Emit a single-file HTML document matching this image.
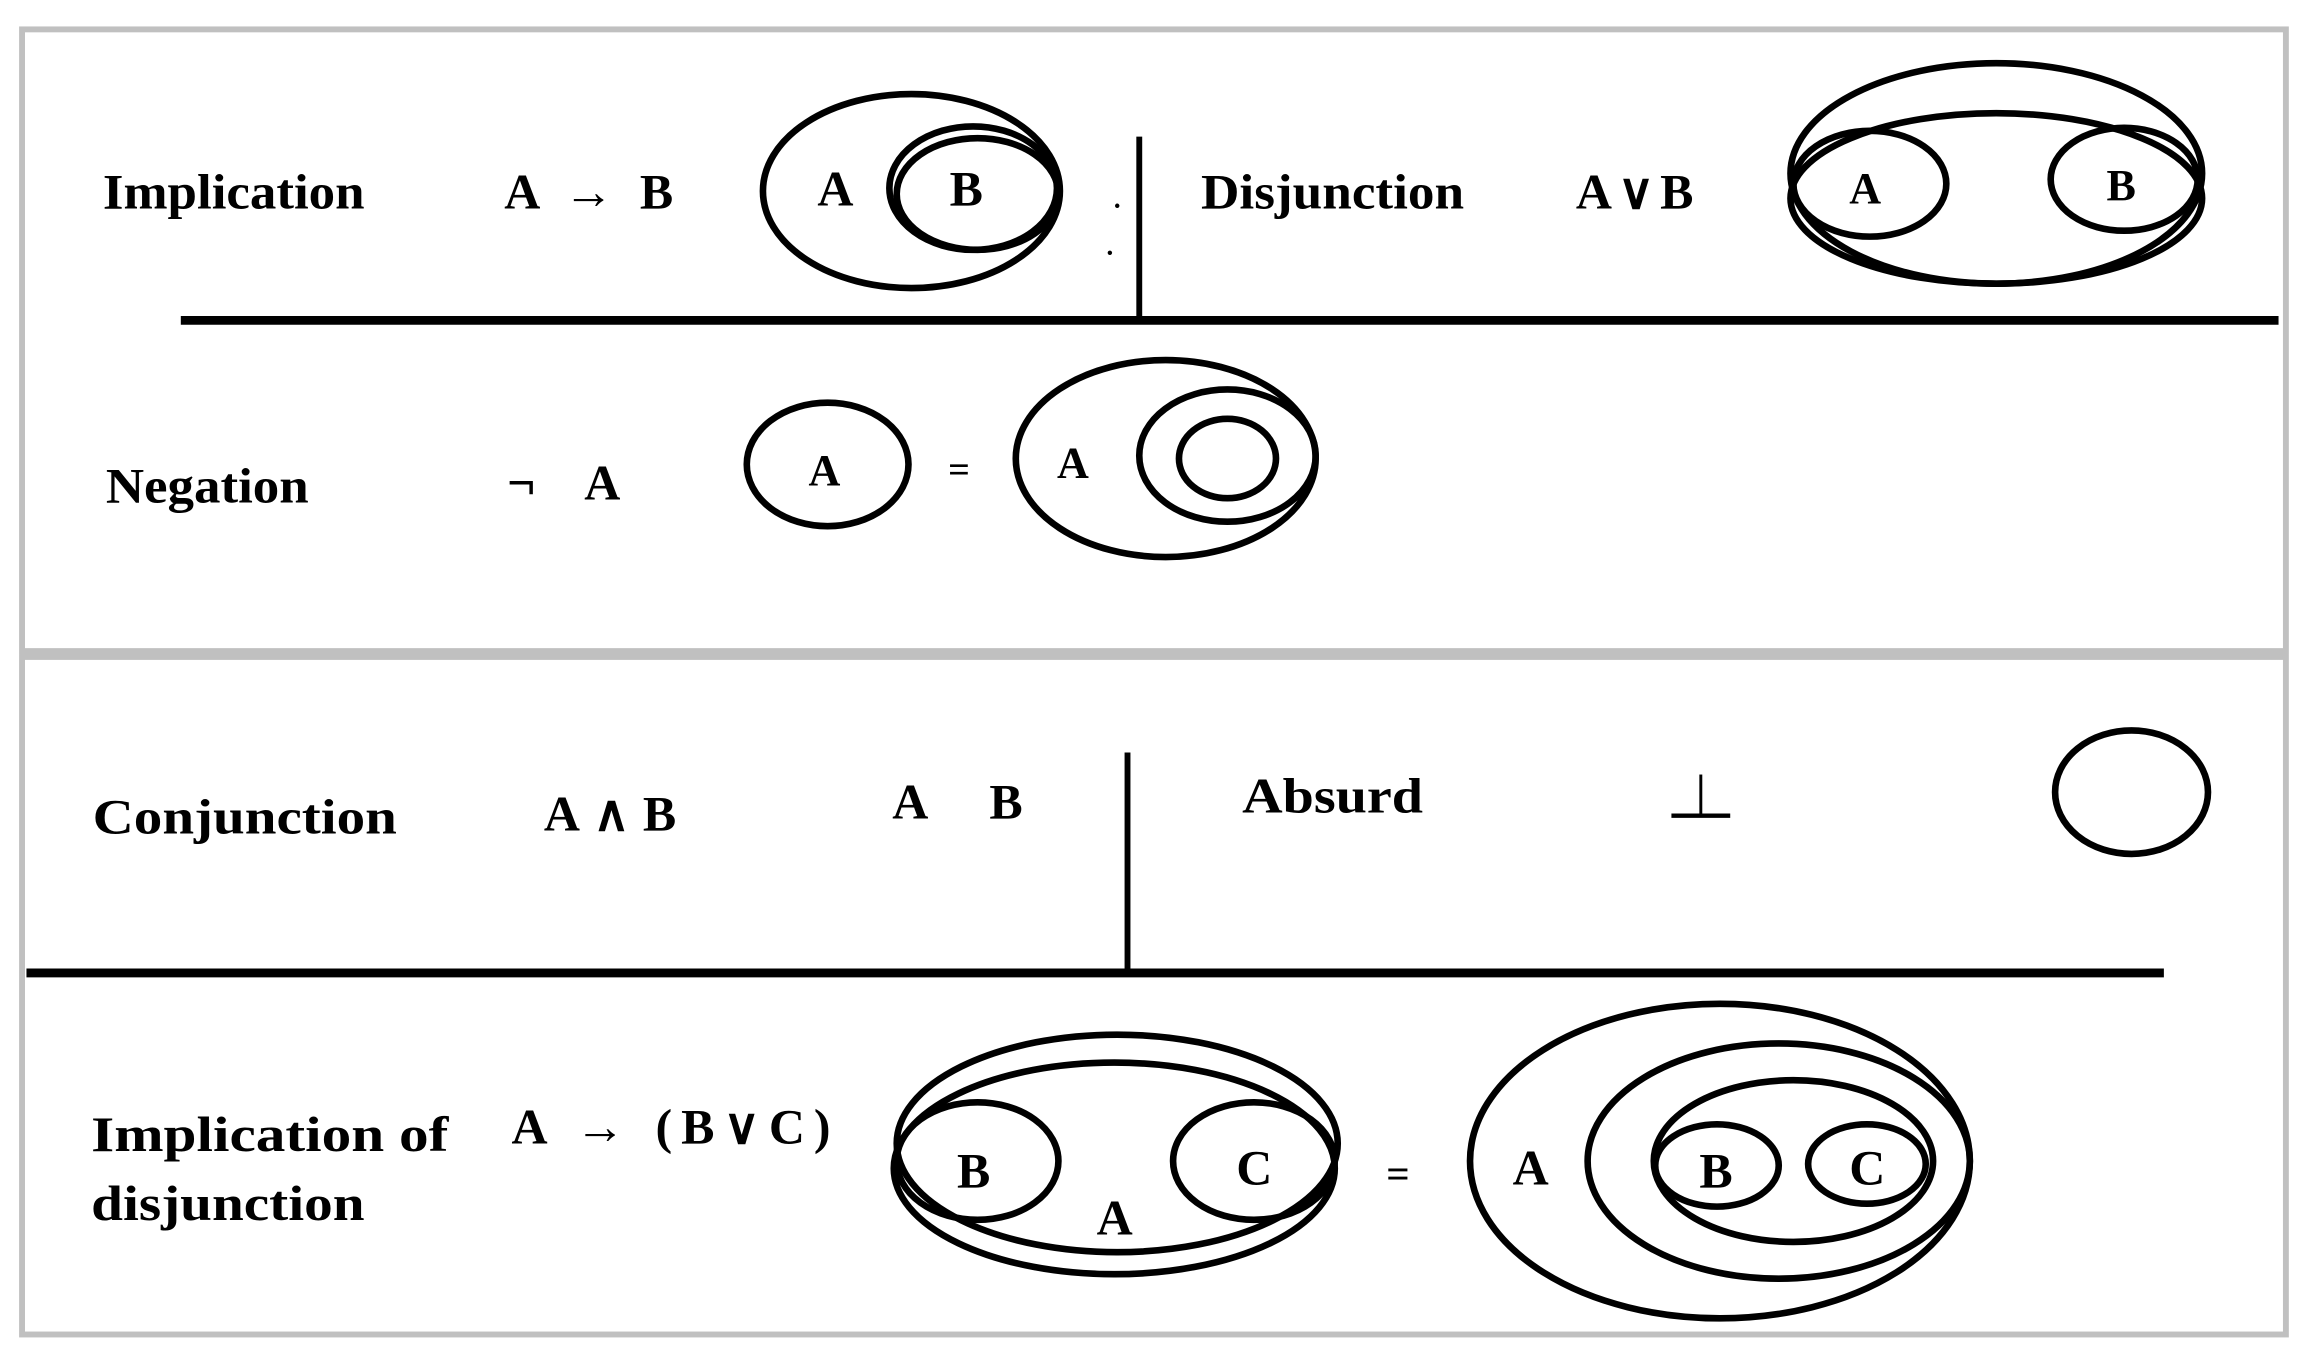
<!DOCTYPE html>
<html><head><style>html,body{margin:0;padding:0;background:#fff}svg{display:block}</style></head>
<body>
<svg width="2305" height="1358" viewBox="0 0 1568 924" preserveAspectRatio="none" xmlns="http://www.w3.org/2000/svg">
<rect x="0" y="0" width="1568" height="924" fill="#fff"/>
<g fill="none" stroke="#c0c0c0" stroke-width="4">
<rect x="15" y="20" width="1540" height="423"/>
<rect x="15" y="447" width="1540" height="461"/>
</g>
<g stroke="#000" fill="none">
<line x1="775" y1="93" x2="775" y2="218" stroke-width="4"/>
<line x1="123" y1="218" x2="1550" y2="218" stroke-width="6"/>
<line x1="767" y1="512" x2="767" y2="662" stroke-width="4"/>
<line x1="18" y1="662" x2="1472" y2="662" stroke-width="6"/>
<g stroke-width="4.5">
<ellipse cx="620" cy="130" rx="101" ry="66"/>
<ellipse cx="662" cy="128" rx="57" ry="42"/>
<ellipse cx="665" cy="132" rx="55" ry="38"/>
<ellipse cx="1358" cy="118" rx="140" ry="75"/>
<ellipse cx="1358" cy="135" rx="140" ry="58"/>
<ellipse cx="1272" cy="125" rx="52" ry="36"/>
<ellipse cx="1445" cy="122" rx="50" ry="35"/>
<ellipse cx="563" cy="316" rx="55" ry="42"/>
<ellipse cx="793" cy="312" rx="102" ry="67"/>
<ellipse cx="835" cy="310" rx="60" ry="45"/>
<ellipse cx="835" cy="312" rx="33" ry="27"/>
<ellipse cx="1450" cy="539" rx="52" ry="42"/>
<ellipse cx="760" cy="778" rx="150" ry="74"/>
<ellipse cx="758" cy="795" rx="150" ry="72"/>
<ellipse cx="665" cy="790" rx="55" ry="40"/>
<ellipse cx="853" cy="790" rx="55" ry="40"/>
<ellipse cx="1170" cy="790" rx="170" ry="107"/>
<ellipse cx="1210" cy="790" rx="130" ry="80"/>
<ellipse cx="1220" cy="790" rx="95" ry="55"/>
<ellipse cx="1168" cy="793" rx="42" ry="28"/>
<ellipse cx="1270" cy="792" rx="40" ry="27"/>
</g>
<line x1="1157" y1="527" x2="1157" y2="555" stroke-width="2"/>
<line x1="1137" y1="555" x2="1177" y2="555" stroke-width="3"/>
</g>
<circle cx="760" cy="140" r="1.5"/><circle cx="755" cy="172" r="1.5"/>
<g font-family="Liberation Serif, serif" font-weight="bold" font-size="34" fill="#000">
<text x="70" y="142" textLength="178" lengthAdjust="spacingAndGlyphs">Implication</text>
<text x="343" y="142" textLength="115" lengthAdjust="spacing">A → B</text>
<text x="556" y="140">A</text>
<text x="646" y="140">B</text>
<text x="817" y="142" textLength="179" lengthAdjust="spacingAndGlyphs">Disjunction</text>
<text x="1072" y="142" textLength="80" lengthAdjust="spacing">A∨B</text>
<text x="1258" y="138" font-size="30">A</text>
<text x="1433" y="136" font-size="30">B</text>
<text x="72" y="342" textLength="138" lengthAdjust="spacingAndGlyphs">Negation</text>
<text x="345" y="340" textLength="77" lengthAdjust="spacing">¬ A</text>
<text x="550" y="330" font-size="30">A</text>
<text x="645" y="328" font-size="26">=</text>
<text x="719" y="325" font-size="30">A</text>
<text x="63" y="567" textLength="207" lengthAdjust="spacingAndGlyphs">Conjunction</text>
<text x="370" y="565" textLength="90" lengthAdjust="spacing">A∧B</text>
<text x="607" y="557">A</text>
<text x="673" y="557">B</text>
<text x="845" y="553" textLength="123" lengthAdjust="spacingAndGlyphs">Absurd</text>
<text x="62" y="783" textLength="243" lengthAdjust="spacingAndGlyphs">Implication of</text>
<text x="62" y="830" textLength="186" lengthAdjust="spacingAndGlyphs">disjunction</text>
<text x="348" y="778" textLength="217" lengthAdjust="spacing">A → (B∨C)</text>
<text x="651" y="808">B</text>
<text x="841" y="806">C</text>
<text x="746" y="840">A</text>
<text x="943" y="808" font-size="28">=</text>
<text x="1029" y="806">A</text>
<text x="1156" y="808">B</text>
<text x="1258" y="806">C</text>
</g>
</svg>
</body></html>
